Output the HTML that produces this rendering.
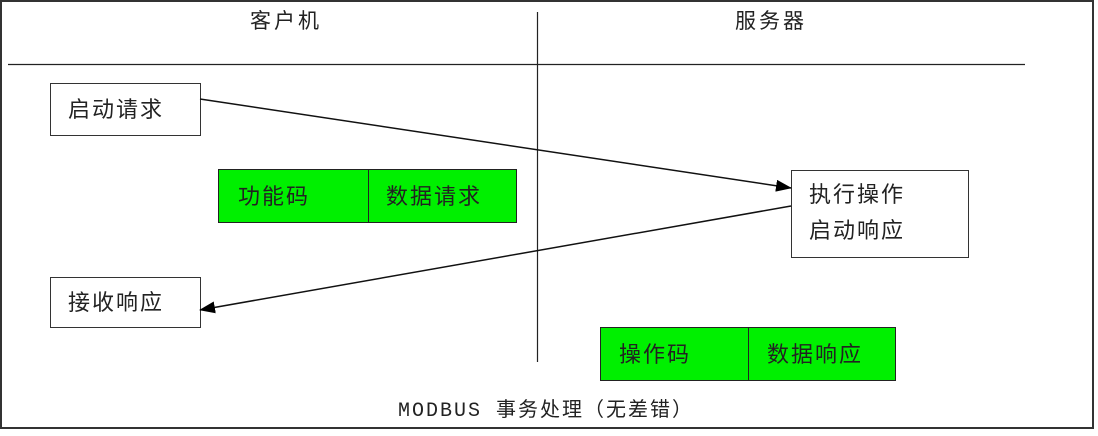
<!DOCTYPE html>
<html><head><meta charset="utf-8"><style>
body{margin:0;background:#fff;}
svg text{font-family:"Liberation Sans","Noto Sans CJK SC",sans-serif;fill:#222;}
</style></head><body>
<svg width="1098" height="431" viewBox="0 0 1098 431" xmlns="http://www.w3.org/2000/svg">
<defs><marker id="a" markerWidth="16" markerHeight="12" refX="15" refY="6" orient="auto" markerUnits="userSpaceOnUse"><path d="M0,0 L16,6 L0,12 z" fill="#000"/></marker></defs>
<rect x="1" y="1" width="1092" height="427" fill="#fff" stroke="#333" stroke-width="2"/>
<text x="286" y="28" font-size="21" letter-spacing="3" text-anchor="middle">客户机</text>
<text x="771" y="28" font-size="21" letter-spacing="3" text-anchor="middle">服务器</text>
<line x1="8" y1="64.5" x2="1025" y2="64.5" stroke="#222" stroke-width="1.2"/>
<line x1="537.5" y1="12" x2="537.5" y2="362" stroke="#222" stroke-width="1.2"/>
<rect x="50.5" y="83.5" width="150" height="52" fill="#fff" stroke="#333"/>
<text x="68" y="117" font-size="22" letter-spacing="2">启动请求</text>
<rect x="218.5" y="169.5" width="298" height="53" fill="#00f000" stroke="#222"/>
<line x1="368.5" y1="169.5" x2="368.5" y2="222.5" stroke="#222"/>
<text x="238" y="204" font-size="22" letter-spacing="2">功能码</text>
<text x="386" y="204" font-size="22" letter-spacing="2">数据请求</text>
<rect x="791.5" y="170.5" width="177" height="87" fill="#fff" stroke="#333"/>
<text x="809" y="202" font-size="22" letter-spacing="2">执行操作</text>
<text x="809" y="238" font-size="22" letter-spacing="2">启动响应</text>
<rect x="50.5" y="277.5" width="150" height="50" fill="#fff" stroke="#333"/>
<text x="68" y="310" font-size="22" letter-spacing="2">接收响应</text>
<rect x="600.5" y="327.5" width="295" height="53" fill="#00f000" stroke="#222"/>
<line x1="748.5" y1="327.5" x2="748.5" y2="380.5" stroke="#222"/>
<text x="619" y="362" font-size="22" letter-spacing="2">操作码</text>
<text x="767" y="362" font-size="22" letter-spacing="2">数据响应</text>
<line x1="200" y1="99" x2="791" y2="188" stroke="#111" stroke-width="1.5" marker-end="url(#a)"/>
<line x1="791" y1="206" x2="200" y2="310" stroke="#111" stroke-width="1.5" marker-end="url(#a)"/>
<text x="398" y="416" font-size="20" letter-spacing="2" style="font-family:'Liberation Mono','Noto Sans CJK SC',monospace">MODBUS 事务处理（无差错）</text>
</svg>
</body></html>
